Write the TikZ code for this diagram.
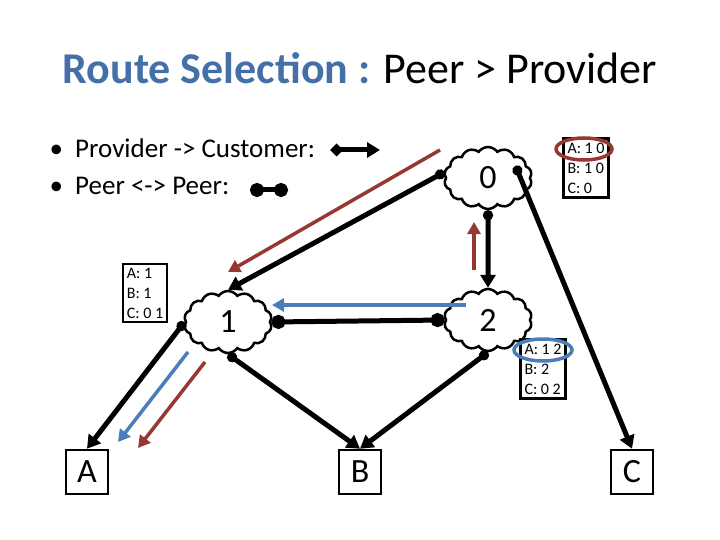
\documentclass[tikz,border=0pt]{standalone}
\usepackage{fontspec}
\setmainfont{Carlito}
\usetikzlibrary{shapes.symbols,arrows.meta}
\definecolor{rr}{RGB}{150,55,50}
\definecolor{bb}{RGB}{75,125,185}
\begin{document}
\begin{tikzpicture}[x=1pt,y=-1pt,
  cl/.style={cloud,cloud puffs=14,cloud puff arc=110,draw,line width=2.5pt,minimum width=88pt,minimum height=62pt,aspect=1.4,font=\fontsize{34}{36}\selectfont},
  bx/.style={draw,line width=2.5pt,minimum width=42pt,minimum height=44pt,font=\fontsize{34}{36}\selectfont},
  tb/.style={draw,line width=2.5pt,align=left,font=\fontsize{16}{20}\selectfont,inner sep=4pt},
  pc/.style={line width=5pt,{Circle[length=10pt]}-{Triangle[length=13pt,width=15pt]}},
  pp/.style={line width=5pt,{Circle[length=14pt]}-{Circle[length=14pt]}},
  ra/.style={line width=3.5pt,rr,-{Triangle[length=12pt,width=13pt]}},
  ba/.style={line width=3.5pt,bb,-{Triangle[length=12pt,width=13pt]}}]
\useasboundingbox (0,0) rectangle (720,540);
\node (title) at (360,68) {\fontsize{44}{48}\selectfont\textcolor{bb!90!black}{\textbf{Route Selection :}} Peer {\textgreater} Provider};
\node[anchor=west,font=\fontsize{27}{30}\selectfont] (l1) at (46,148) {\textbullet\ \ Provider -> Customer:};
\node[anchor=west,font=\fontsize{27}{30}\selectfont] (l2) at (46,186) {\textbullet\ \ Peer <-> Peer:};
\coordinate (la) at (330,150); \coordinate (lb) at (380,150);
\coordinate (lc) at (250,190); \coordinate (ld) at (288,190);
\draw[line width=5pt,{Diamond[length=13pt,width=13pt]}-{Triangle[length=13pt,width=15pt]}] (la) -- (lb);
\draw[pp] (lc) -- (ld);
\node[cl] (c0) at (488,178) {0};
\node[cl] (c1) at (228,322) {1};
\node[cl] (c2) at (488,320) {2};
\node[bx] (A) at (87,472) {A};
\node[bx] (B) at (360,472) {B};
\node[bx] (C) at (632,472) {C};
\node[tb] (t1) at (145,293) {A: 1\\B: 1\\C: 0 1};
\node[tb] (t0) at (586,168) {A: 1 0\\B: 1 0\\C: 0};
\node[tb] (t2) at (543,369) {A: 1 2\\B: 2\\C: 0 2};
\draw[rr,line width=3.5pt] (584,149) ellipse (28pt and 11pt);
\draw[bb,line width=3.5pt] (543,350) ellipse (29pt and 11pt);
\draw[pc] (c0.west) ++(0,-6) coordinate (s1) (s1) -- (c1.north);
\draw[pc] (c0.south) -- (c2.north);
\draw[pc] (c0.north east) ++(-4,10) coordinate (s2) (s2) -- (C.north);
\draw[pp] (c1.east) -- (c2.west);
\draw[pc] (c1.west) -- (A.north);
\draw[pc] (c1.south) -- (B.north);
\draw[pc] (c2.south) -- (B.north);
\coordinate (r1a) at (440,150); \coordinate (r1b) at (228,272);
\coordinate (r2a) at (474,270); \coordinate (r2b) at (474,222);
\coordinate (r3a) at (205,362); \coordinate (r3b) at (138,448);
\coordinate (b1a) at (466,305); \coordinate (b1b) at (272,305);
\coordinate (b2a) at (188,352); \coordinate (b2b) at (118,442);
\draw[ra] (r1a) -- (r1b);
\draw[ra] (r2a) -- (r2b);
\draw[ra] (r3a) -- (r3b);
\draw[ba] (b1a) -- (b1b);
\draw[ba] (b2a) -- (b2b);
\end{tikzpicture}
\end{document}
